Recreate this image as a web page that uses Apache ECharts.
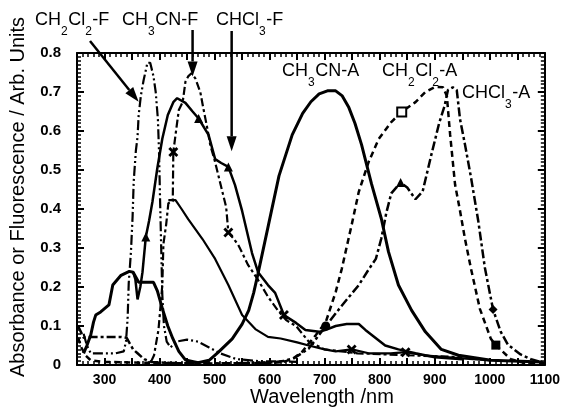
<!DOCTYPE html>
<html>
<head>
<meta charset="utf-8">
<script src="https://cdn.jsdelivr.net/npm/echarts@6/dist/echarts.min.js"></script>
<style>
  html, body { margin: 0; padding: 0; background: #fff; }
  #chart { width: 563px; height: 412px; }
</style>
</head>
<body>
<div id="chart"></div>
<script>
// Wavelength (nm) / intensity pairs for each spectrum
const ch3cnAbs = [[262,0.03],[268,0.05],[275,0.077],[280,0.11],[284,0.128],[293,0.136],[308,0.154],[315,0.205],[330,0.23],[345,0.24],[352,0.238],[357,0.225],[362,0.212],[375,0.212],[389,0.212],[396,0.19],[405,0.145],[415,0.1],[424,0.068],[435,0.035],[447,0.013],[470,0.006],[490,0.012],[507,0.033],[532,0.067],[550,0.105],[562,0.14],[571,0.185],[579,0.235],[598,0.36],[617,0.485],[641,0.59],[660,0.645],[675,0.675],[690,0.695],[705,0.703],[720,0.703],[732,0.69],[744,0.66],[755,0.62],[767,0.565],[785,0.465],[803,0.375],[816,0.29],[834,0.205],[858,0.14],[883,0.085],[912,0.04],[943,0.025],[1002,0.012],[1095,0.008]];

const ch2cl2Abs = [[252,0.07],[258,0.045],[265,0.025],[275,0.012],[300,0.008],[400,0.005],[500,0.004],[600,0.005],[625,0.008],[641,0.015],[659,0.034],[684,0.077],[702,0.11],[720,0.187],[731,0.246],[749,0.359],[762,0.444],[780,0.521],[798,0.579],[821,0.623],[840,0.649],[865,0.674],[883,0.7],[901,0.713],[915,0.712],[922,0.69],[928,0.59],[937,0.462],[946,0.395],[955,0.323],[966,0.246],[982,0.144],[1002,0.067],[1011,0.051],[1038,0.015],[1060,0.006],[1100,0.003]];

const chcl3Abs = [[252,0.1],[257,0.085],[262,0.07],[270,0.072],[300,0.072],[330,0.072],[340,0.07],[346,0.055],[352,0.04],[360,0.03],[372,0.015],[385,0.008],[420,0.005],[500,0.004],[600,0.006],[625,0.01],[645,0.018],[671,0.042],[702,0.1],[731,0.152],[762,0.205],[780,0.245],[793,0.272],[803,0.325],[812,0.39],[821,0.44],[838,0.468],[850,0.455],[865,0.425],[878,0.445],[894,0.54],[908,0.62],[918,0.665],[924,0.705],[933,0.712],[940,0.705],[946,0.63],[955,0.565],[966,0.48],[979,0.37],[991,0.25],[1006,0.142],[1020,0.085],[1033,0.052],[1056,0.027],[1075,0.015],[1100,0.005]];

const ch2cl2Flu = [[262,0.08],[268,0.05],[275,0.03],[290,0.03],[320,0.03],[335,0.035],[339,0.06],[342,0.12],[344,0.21],[348,0.29],[351,0.38],[353,0.47],[357,0.55],[360,0.585],[362,0.64],[366,0.69],[371,0.73],[378,0.775],[383,0.775],[389,0.74],[393,0.7],[397,0.63],[399,0.55],[401,0.42],[403,0.3],[405,0.18],[408,0.1],[413,0.06],[420,0.045],[430,0.06],[450,0.065],[470,0.06],[490,0.045],[510,0.03],[540,0.015],[580,0.01],[650,0.008]];

const ch3cnFlu = [[385,0.01],[390,0.025],[393,0.05],[398,0.09],[402,0.154],[405,0.205],[407,0.31],[412,0.36],[416,0.415],[424,0.42],[425,0.546],[429,0.59],[435,0.654],[442,0.674],[447,0.726],[452,0.74],[458,0.748],[465,0.735],[474,0.7],[480,0.655],[487,0.605],[492,0.565],[501,0.52],[507,0.485],[514,0.445],[521,0.405],[525,0.34],[534,0.325],[543,0.308],[561,0.256],[579,0.218],[597,0.175],[615,0.14],[630,0.115],[648,0.1],[671,0.06],[700,0.04],[760,0.03],[850,0.025],[950,0.02]];

const chcl3Flu = [[352,0.238],[356,0.22],[360,0.168],[365,0.2],[369,0.238],[375,0.328],[381,0.37],[387,0.418],[396,0.505],[405,0.58],[415,0.641],[425,0.674],[432,0.684],[447,0.672],[460,0.65],[471,0.632],[489,0.59],[501,0.528],[512,0.518],[525,0.508],[537,0.462],[550,0.395],[559,0.341],[568,0.287],[579,0.238],[597,0.205],[610,0.185],[626,0.128],[648,0.108],[665,0.09],[690,0.085],[702,0.09],[720,0.1],[740,0.105],[762,0.105],[774,0.09],[792,0.07],[810,0.05],[834,0.04],[865,0.03],[900,0.02],[950,0.015]];

const tailTrace = [[416,0.423],[429,0.423],[440,0.4],[452,0.374],[478,0.323],[501,0.272],[525,0.205],[550,0.128],[574,0.092],[597,0.072],[620,0.068],[650,0.058],[671,0.05],[700,0.04],[720,0.035],[749,0.04],[780,0.03],[820,0.03],[847,0.033],[880,0.025],[920,0.02],[1000,0.012]];

// Marker positions (wavelength, symbol) along each trace
const ch2cl2AbsMarks = [[840,'open'],[1011,'rect']];
const chcl3AbsMarks = [[702,'circle'],[838,'triangle'],[1006,'diamond']];
const chcl3FluMarks = [[375,'triangle'],[471,'triangle'],[525,'triangle'],[626,'cross']];
const ch3cnFluMarks = [[425,'cross'],[525,'cross']];
const tailMarks = [[749,'cross'],[847,'cross']];

// Axis tick values
const xTickLabels = [300,400,500,600,700,800,900,1000,1100];
const yTickLabels = [0,0.1,0.2,0.3,0.4,0.5,0.6,0.7,0.8];

const FONT = '"Liberation Sans", Arial, Helvetica, sans-serif';
const CROSS = 'path://M0,2 L2,0 L5,3 L8,0 L10,2 L7,5 L10,8 L8,10 L5,7 L2,10 L0,8 L3,5 Z';

function withMarks(points, marks) {
  return points.map(p => {
    const m = (marks || []).find(k => k[0] === p[0]);
    if (!m) return p;
    const kind = m[1];
    if (kind === 'open') {
      return { value: p, symbol: 'rect', symbolSize: 9,
               itemStyle: { color: '#fff', borderColor: '#000', borderWidth: 2 } };
    }
    return { value: p, symbol: kind === 'cross' ? CROSS : kind,
             symbolSize: kind === 'cross' ? 10 : 9, itemStyle: { color: '#000' } };
  });
}

function trace(points, marks, width, dash) {
  return {
    type: 'line',
    data: withMarks(points, marks),
    symbol: 'none',
    showSymbol: true,
    smooth: false,
    silent: true,
    animation: false,
    lineStyle: { color: '#000', width: width, type: dash },
    itemStyle: { color: '#000' },
    emphasis: { disabled: true }
  };
}

function xAxisDef(pos, showLabels) {
  return {
    type: 'value', position: pos, min: 250, max: 1100, interval: 50,
    axisLine: { show: true, onZero: false, lineStyle: { color: '#000', width: 2 } },
    axisTick: { show: true, inside: true, length: 7, lineStyle: { color: '#000', width: 2 } },
    minorTick: { show: true, splitNumber: 5, length: 4, lineStyle: { color: '#000', width: 1.5 } },
    splitLine: { show: false },
    axisLabel: {
      show: showLabels, margin: 8, color: '#000', fontSize: 14, fontWeight: 'bold', fontFamily: FONT,
      formatter: v => xTickLabels.indexOf(v) >= 0 ? String(v) : ''
    }
  };
}

function yAxisDef(pos, showLabels) {
  return {
    type: 'value', position: pos, min: 0, max: 0.8, interval: 0.1,
    axisLine: { show: true, onZero: false, lineStyle: { color: '#000', width: 2 } },
    axisTick: { show: true, inside: true, length: 7, lineStyle: { color: '#000', width: 2 } },
    minorTick: { show: true, splitNumber: 10, length: 4, lineStyle: { color: '#000', width: 1.5 } },
    splitLine: { show: false },
    axisLabel: {
      show: showLabels, margin: 16, color: '#000', fontSize: 15, fontWeight: 'bold', fontFamily: FONT,
      formatter: v => {
        const r = Math.round(v * 10) / 10;
        if (!yTickLabels.some(t => Math.abs(t - r) < 1e-6) || Math.abs(v - r) > 1e-6) return '';
        return r === 0 ? '0' : r.toFixed(1);
      }
    }
  };
}

const chart = echarts.init(document.getElementById('chart'), null, { renderer: 'canvas' });

chart.setOption({
  animation: false,
  backgroundColor: '#fff',
  grid: { left: 77, right: 16, top: 53, bottom: 47, containLabel: false },
  xAxis: [xAxisDef('bottom', true), xAxisDef('top', false)],
  yAxis: [yAxisDef('left', true), yAxisDef('right', false)],
  series: [
    trace(ch3cnAbs, null, 3, 'solid'),
    trace(ch2cl2Abs, ch2cl2AbsMarks, 2.5, [6, 4]),
    trace(chcl3Abs, chcl3AbsMarks, 2.5, [9, 3, 3, 3]),
    trace(ch2cl2Flu, null, 2.2, [10, 3, 2, 3, 2, 3]),
    trace(ch3cnFlu, ch3cnFluMarks, 2.2, [8, 3, 3, 3]),
    trace(chcl3Flu, chcl3FluMarks, 2.5, 'solid'),
    trace(tailTrace, tailMarks, 2.2, 'solid')
  ]
});

// Text annotations with subscripts
const MAIN = '18px ' + FONT;
const SUB = '12px ' + FONT;
const SUB_DY = 15;
const measureCtx = document.createElement('canvas').getContext('2d');
function textWidth(s, font) { measureCtx.font = font; return measureCtx.measureText(s).width; }

function chemLabel(parts, x, y) {
  const out = [];
  let cx = x;
  parts.forEach(([s, sub]) => {
    const f = sub ? SUB : MAIN;
    out.push({
      type: 'text', x: cx, y: sub ? y + SUB_DY : y, silent: true,
      style: { text: s, font: f, fill: '#000', align: 'left', verticalAlign: 'top',
               textAlign: 'left', textVerticalAlign: 'top' }
    });
    cx += textWidth(s, f) + (sub ? 0.5 : 0);
  });
  return out;
}

function arrow(x1, y1, x2, y2) {
  const ang = Math.atan2(y2 - y1, x2 - x1);
  const len = 15, half = 5;
  const bx = x2 - len * Math.cos(ang), by = y2 - len * Math.sin(ang);
  const px = -Math.sin(ang) * half, py = Math.cos(ang) * half;
  return [
    { type: 'line', silent: true, shape: { x1: x1, y1: y1, x2: bx, y2: by },
      style: { stroke: '#000', lineWidth: 2.5 } },
    { type: 'polygon', silent: true,
      shape: { points: [[x2, y2], [bx + px, by + py], [bx - px, by - py]] },
      style: { fill: '#000' } }
  ];
}

const toPx = p => chart.convertToPixel({ xAxisIndex: 0, yAxisIndex: 0 }, p);
const tipCH2Cl2 = toPx([362, 0.675]);
const tipCH3CN = toPx([460, 0.74]);
const tipCHCl3 = toPx([531, 0.548]);

let elements = [];
elements = elements.concat(chemLabel([['CH', 0], ['2', 1], ['Cl', 0], ['2', 1], ['-F', 0]], 35, 11));
elements = elements.concat(chemLabel([['CH', 0], ['3', 1], ['CN-F', 0]], 122, 11));
elements = elements.concat(chemLabel([['CHCl', 0], ['3', 1], ['-F', 0]], 216, 11));
elements = elements.concat(chemLabel([['CH', 0], ['3', 1], ['CN-A', 0]], 282, 62));
elements = elements.concat(chemLabel([['CH', 0], ['2', 1], ['Cl', 0], ['2', 1], ['-A', 0]], 382, 62));
elements = elements.concat(chemLabel([['CHCl', 0], ['3', 1], ['-A', 0]], 462, 84));

elements = elements.concat(arrow(90, 41, tipCH2Cl2[0], tipCH2Cl2[1]));
elements = elements.concat(arrow(tipCH3CN[0], 30, tipCH3CN[0], tipCH3CN[1]));
elements = elements.concat(arrow(tipCHCl3[0], 31, tipCHCl3[0], tipCHCl3[1]));

elements.push({
  type: 'text', x: 18, y: 197, rotation: Math.PI / 2, silent: true,
  style: { text: 'Absorbance or Fluorescence / Arb. Units', font: '20px ' + FONT, fill: '#000',
           align: 'center', verticalAlign: 'middle', textAlign: 'center', textVerticalAlign: 'middle' }
});
elements.push({
  type: 'text', x: 322, y: 397, silent: true,
  style: { text: 'Wavelength /nm', font: '20px ' + FONT, fill: '#000',
           align: 'center', verticalAlign: 'middle', textAlign: 'center', textVerticalAlign: 'middle' }
});

chart.setOption({ graphic: { elements: elements } });
</script>
</body>
</html>
